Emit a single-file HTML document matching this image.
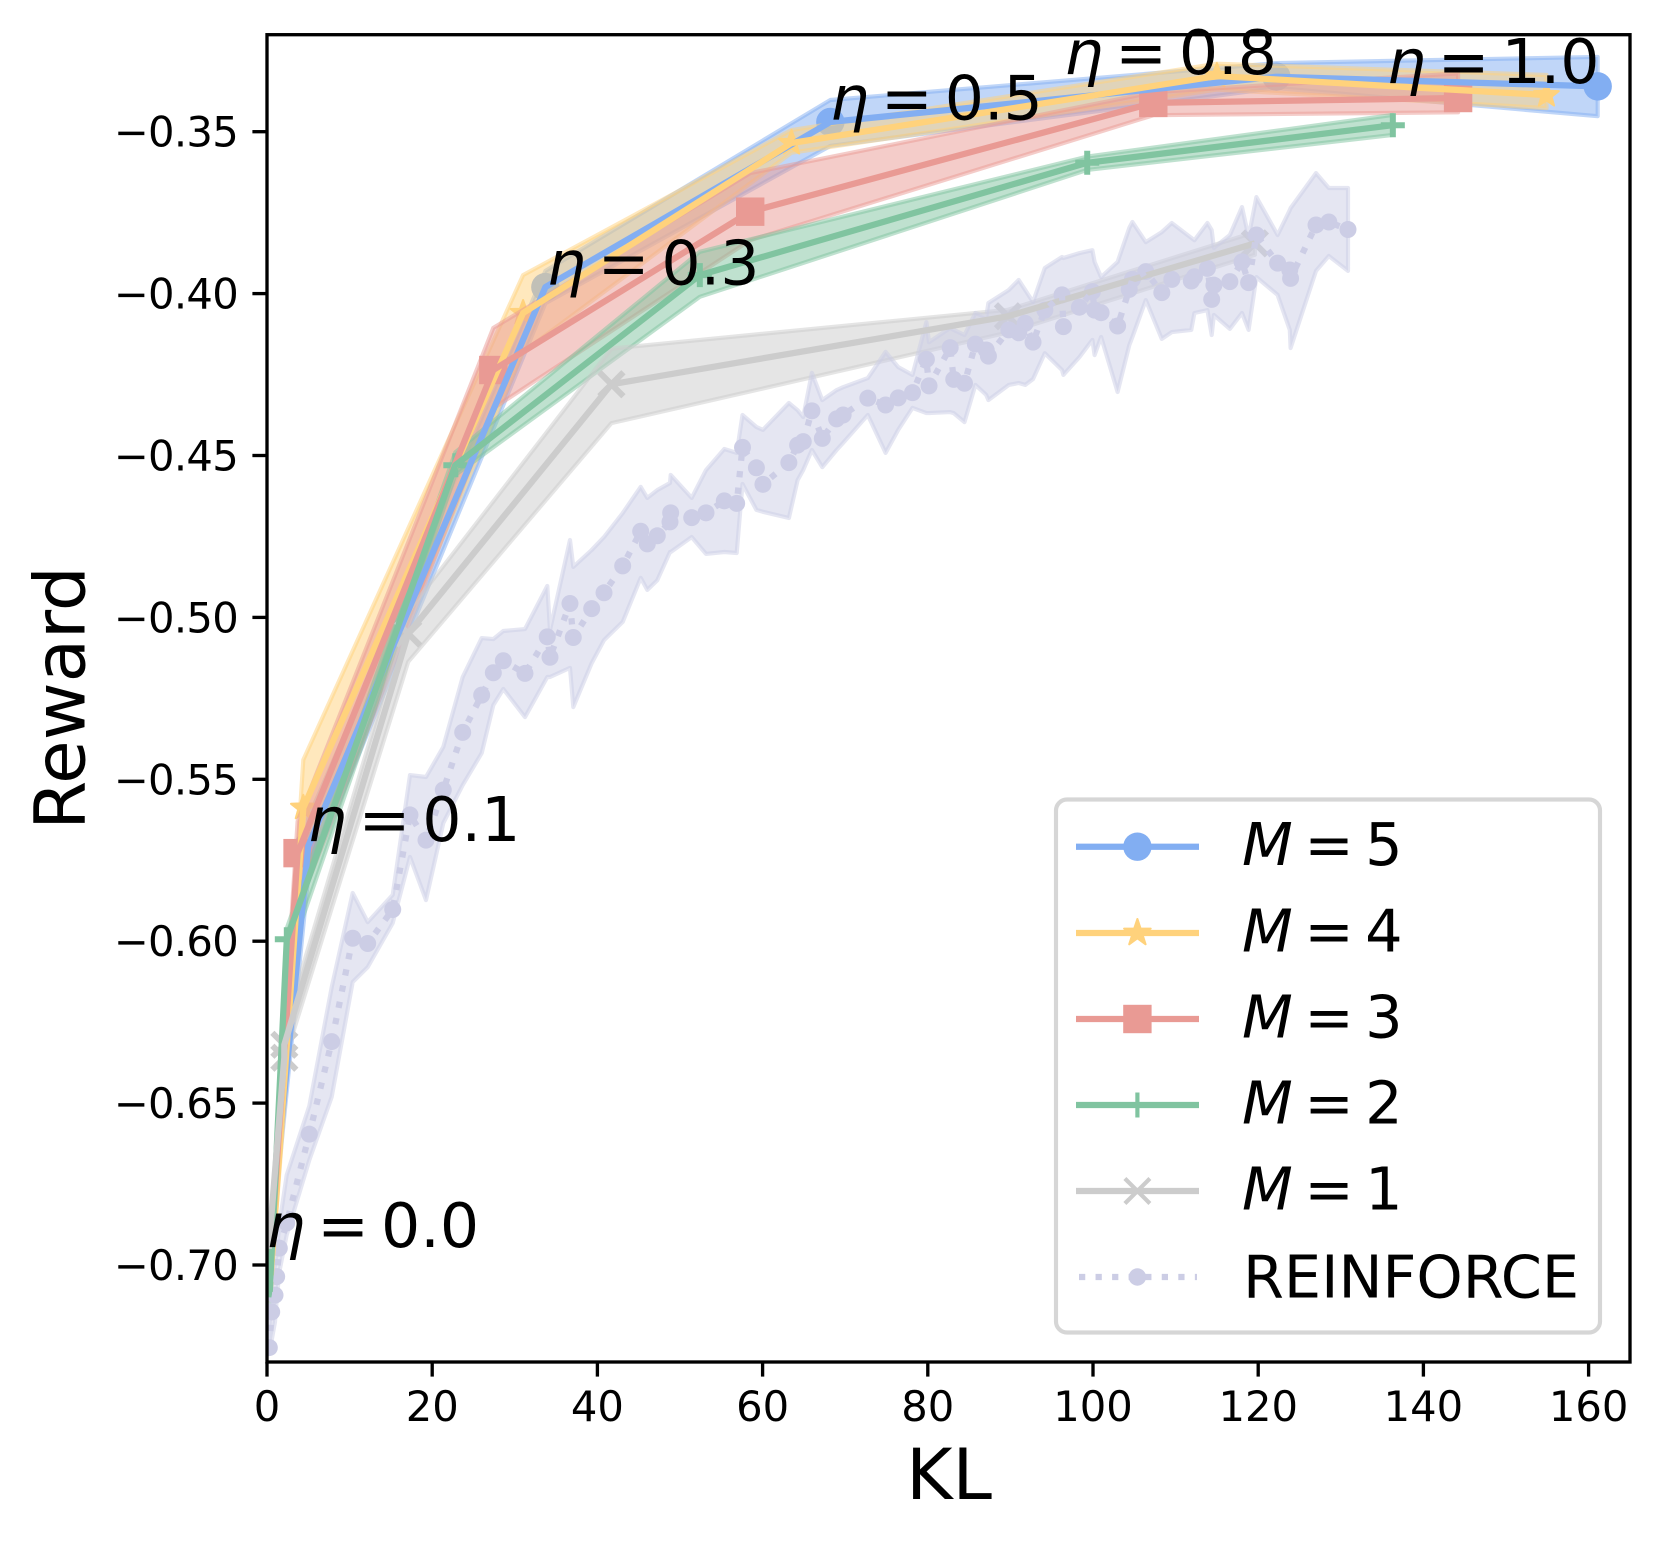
<!DOCTYPE html>
<html lang="en">
<head>
<meta charset="utf-8">
<title>Reward vs KL</title>
<style>
html,body{margin:0;padding:0;background:#fff;}
svg{display:block;font-family:"DejaVu Sans","Liberation Sans",sans-serif;}
</style>
</head>
<body>
<svg id="chart" xmlns="http://www.w3.org/2000/svg" width="1659" height="1544" viewBox="0 0 1659 1544">
  <rect x="0" y="0" width="1659" height="1544" fill="#ffffff"/>
  <defs><clipPath id="plot-clip"><rect x="267" y="34.7" width="1363" height="1327.3"/></clipPath></defs>
  <g id="layer-bands" clip-path="url(#plot-clip)"></g>
  <g id="layer-lines" clip-path="url(#plot-clip)"></g>
  <g id="layer-axes"></g>
  <g id="layer-notes"></g>
  <text x="949" y="1499" font-size="70.8" text-anchor="middle" fill="#000">KL</text>
  <text x="0" y="0" font-size="70.8" text-anchor="middle" fill="#000" transform="translate(84.6 698) rotate(-90)">Reward</text>

  <g>
    <rect x="1056" y="799.5" width="544" height="533" rx="11" ry="11" fill="#ffffff" fill-opacity="0.85" stroke="#d6d6d6" stroke-width="4.17"/>

    <g>
      <line x1="1076" x2="1199" y1="846.7" y2="846.7" stroke="#82aef2" stroke-width="6.25"/>
      <circle cx="1137.4" cy="846.7" r="14.2" fill="#82aef2"/>
      <text x="1242" y="865" font-size="58.9" fill="#000"><tspan font-style="italic">M</tspan><tspan dx="11.5">=</tspan><tspan dx="11.5">5</tspan></text>
    </g>
    <g>
      <line x1="1076" x2="1199" y1="933" y2="933" stroke="#ffd27c" stroke-width="6.25"/>
      <polygon points="1137.4,919 1140.6,928.6 1150.7,928.6 1142.5,934.6 1145.6,944.3 1137.4,938.3 1129.2,944.3 1132.3,934.6 1124.1,928.6 1134.2,928.6" fill="#ffd27c" stroke="#ffd27c" stroke-width="2" stroke-linejoin="round"/>
      <text x="1242" y="951.3" font-size="58.9" fill="#000"><tspan font-style="italic">M</tspan><tspan dx="11.5">=</tspan><tspan dx="11.5">4</tspan></text>
    </g>
    <g>
      <line x1="1076" x2="1199" y1="1019" y2="1019" stroke="#e99a94" stroke-width="6.25"/>
      <rect x="1123.2" y="1004.8" width="28.4" height="28.4" fill="#e99a94"/>
      <text x="1242" y="1037.3" font-size="58.9" fill="#000"><tspan font-style="italic">M</tspan><tspan dx="11.5">=</tspan><tspan dx="11.5">3</tspan></text>
    </g>
    <g>
      <line x1="1076" x2="1199" y1="1105" y2="1105" stroke="#80c4a0" stroke-width="6.25"/>
      <line x1="1137.4" x2="1137.4" y1="1092.5" y2="1117.5" stroke="#80c4a0" stroke-width="4.17"/>
      <text x="1242" y="1123.3" font-size="58.9" fill="#000"><tspan font-style="italic">M</tspan><tspan dx="11.5">=</tspan><tspan dx="11.5">2</tspan></text>
    </g>
    <g>
      <line x1="1076" x2="1199" y1="1191" y2="1191" stroke="#cccccc" stroke-width="6.25"/>
      <path d="M1124.9 1178.5L1149.9 1203.5M1149.9 1178.5L1124.9 1203.5" stroke="#cccccc" stroke-width="4.17" fill="none"/>
      <text x="1242" y="1209.3" font-size="58.9" fill="#000"><tspan font-style="italic">M</tspan><tspan dx="11.5">=</tspan><tspan dx="11.5">1</tspan></text>
    </g>
    <g>
      <line x1="1079" x2="1197" y1="1277" y2="1277" stroke="#cccde5" stroke-width="6.25" stroke-dasharray="6.25 10.3"/>
      <circle cx="1137.4" cy="1277" r="8.7" fill="#cccde5"/>
      <text x="1243" y="1297.5" font-size="58.9" fill="#000">REINFORCE</text>
    </g>
  </g>
</svg>

<script>
// Axis tick labels
const xTicks = [0, 20, 40, 60, 80, 100, 120, 140, 160];
const yTicks = [-0.35, -0.40, -0.45, -0.50, -0.55, -0.60, -0.65, -0.70];

// M = 5
const m5Kl = [0.2, 5.0, 33.7, 68.2, 122.2, 161.1];
const m5Reward = [-0.697, -0.5706, -0.398, -0.347, -0.333, -0.336];
const m5Upper = [-0.692, -0.562, -0.393, -0.3402, -0.3288, -0.3269];
const m5Lower = [-0.702, -0.58, -0.403, -0.3544, -0.3365, -0.3452];

// M = 4
const m4Kl = [0.3, 4.4, 31, 63.5, 115, 154.9];
const m4Reward = [-0.709, -0.5588, -0.406, -0.3535, -0.3328, -0.3387];
const m4Upper = [-0.707, -0.544, -0.3943, -0.3495, -0.329, -0.3325];
const m4Lower = [-0.711, -0.575, -0.418, -0.3565, -0.337, -0.3427];

// M = 3
const m3Kl = [0.3, 3.7, 27.4, 58.5, 107.3, 144.2];
const m3Reward = [-0.7025, -0.5728, -0.4236, -0.3747, -0.3411, -0.3396];
const m3Upper = [-0.6985, -0.563, -0.4106, -0.3628, -0.3378, -0.332];
const m3Lower = [-0.7068, -0.59, -0.4354, -0.3835, -0.3449, -0.344];

// M = 2
const m2Kl = [0.3, 2.4, 22.8, 52.4, 99.3, 136.3];
const m2Reward = [-0.71, -0.5994, -0.453, -0.3943, -0.3596, -0.348];
const m2Upper = [-0.708, -0.596, -0.449, -0.3871, -0.3577, -0.3448];
const m2Lower = [-0.712, -0.607, -0.456, -0.401, -0.3618, -0.351];

// M = 1
const m1Kl = [0.2, 2.1, 2.1, 17.1, 41.7, 89.7, 119.6];
const m1Reward = [-0.695, -0.636, -0.632, -0.505, -0.428, -0.407, -0.3845];
const m1Upper = [-0.693, -0.632, -0.627, -0.4982, -0.417, -0.405, -0.381];
const m1Lower = [-0.697, -0.64, -0.637, -0.5137, -0.44, -0.412, -0.388];

// REINFORCE
const reinforceKl = [0.28,0.57,0.97,1.17,1.49,2.39,5.12,7.83,10.38,12.19,15.22,17.31,19.25,21.34,23.69,25.99,27.40,28.61,31.23,33.93,34.26,36.68,37.08,39.31,40.80,43.06,45.24,46.04,47.25,48.79,48.87,51.42,53.15,55.36,56.86,57.57,59.25,60.04,63.18,64.24,64.92,65.97,67.23,68.96,69.75,72.74,74.89,76.42,78.15,79.83,80.15,82.71,83.14,84.44,85.76,87.07,87.34,89.81,91.01,91.79,92.74,94.17,96.25,96.42,98.35,99.93,100.19,100.98,102.98,104.39,104.77,106.39,108.33,109.54,111.90,112.28,113.85,114.37,114.64,116.57,118.04,118.84,119.78,122.35,123.82,123.92,127.00,128.55,130.87];
const reinforceReward = [-0.7255,-0.7145,-0.7093,-0.7036,-0.6948,-0.6870,-0.6596,-0.6310,-0.5991,-0.6007,-0.5902,-0.5610,-0.5688,-0.5533,-0.5355,-0.5240,-0.5171,-0.5134,-0.5173,-0.5060,-0.5123,-0.4957,-0.5062,-0.4973,-0.4924,-0.4841,-0.4734,-0.4773,-0.4748,-0.4705,-0.4677,-0.4692,-0.4677,-0.4640,-0.4648,-0.4475,-0.4538,-0.4589,-0.4522,-0.4468,-0.4457,-0.4362,-0.4447,-0.4387,-0.4375,-0.4323,-0.4344,-0.4322,-0.4306,-0.4203,-0.4285,-0.4167,-0.4265,-0.4277,-0.4156,-0.4174,-0.4193,-0.4112,-0.4121,-0.4092,-0.4150,-0.4051,-0.4004,-0.4102,-0.4042,-0.3994,-0.4051,-0.4059,-0.4100,-0.3987,-0.3956,-0.3932,-0.3997,-0.3956,-0.3961,-0.3948,-0.3922,-0.4018,-0.3974,-0.3963,-0.3902,-0.3966,-0.3819,-0.3906,-0.3927,-0.3953,-0.3788,-0.3779,-0.3802];
const reinforceUpper = [-0.7201,-0.7062,-0.7000,-0.6960,-0.6877,-0.6722,-0.6509,-0.6142,-0.5851,-0.5941,-0.5857,-0.5487,-0.5493,-0.5400,-0.5184,-0.5064,-0.5067,-0.5042,-0.5036,-0.4903,-0.5039,-0.4761,-0.4844,-0.4792,-0.4752,-0.4678,-0.4597,-0.4631,-0.4607,-0.4585,-0.4560,-0.4631,-0.4545,-0.4480,-0.4492,-0.4375,-0.4412,-0.4421,-0.4338,-0.4360,-0.4381,-0.4245,-0.4329,-0.4298,-0.4289,-0.4261,-0.4180,-0.4227,-0.4251,-0.4088,-0.4150,-0.4106,-0.4112,-0.4128,-0.4060,-0.4072,-0.4029,-0.3989,-0.3958,-0.3989,-0.4026,-0.3921,-0.3887,-0.3890,-0.3875,-0.3866,-0.3902,-0.3949,-0.3902,-0.3797,-0.3779,-0.3841,-0.3810,-0.3782,-0.3828,-0.3835,-0.3782,-0.3804,-0.3859,-0.3819,-0.3733,-0.3825,-0.3702,-0.3819,-0.3742,-0.3736,-0.3628,-0.3674,-0.3674];
const reinforceLower = [-0.7269,-0.7232,-0.7176,-0.7108,-0.7022,-0.6907,-0.6676,-0.6481,-0.6126,-0.6080,-0.5944,-0.5740,-0.5873,-0.5635,-0.5518,-0.5419,-0.5271,-0.5221,-0.5308,-0.5184,-0.5184,-0.5156,-0.5277,-0.5141,-0.5070,-0.5014,-0.4878,-0.4915,-0.4885,-0.4798,-0.4798,-0.4752,-0.4804,-0.4798,-0.4801,-0.4588,-0.4668,-0.4674,-0.4693,-0.4576,-0.4545,-0.4483,-0.4536,-0.4483,-0.4461,-0.4375,-0.4492,-0.4421,-0.4353,-0.4369,-0.4369,-0.4366,-0.4369,-0.4397,-0.4282,-0.4313,-0.4329,-0.4282,-0.4276,-0.4282,-0.4264,-0.4184,-0.4236,-0.4251,-0.4196,-0.4143,-0.4190,-0.4134,-0.4304,-0.4159,-0.4134,-0.4020,-0.4140,-0.4119,-0.4112,-0.4060,-0.4051,-0.4128,-0.4066,-0.4109,-0.4060,-0.4112,-0.3949,-0.4004,-0.4112,-0.4168,-0.3930,-0.3884,-0.3930];

// Eta annotations
const etaValues = ['0.0', '0.1', '0.3', '0.5', '0.8', '1.0'];
const etaKl = [-0.1, 4.9, 33.85, 68.15, 96.5, 135.55];
const etaReward = [-0.6944, -0.569, -0.3972, -0.3462, -0.3322, -0.3349];

const NS = 'http://www.w3.org/2000/svg';
const plot = { left: 267, right: 1630, top: 34.7, bottom: 1362 };
function xScale(v) { return plot.left + v * 8.26; }
function yScale(v) { return 131.7 + (-0.35 - v) * 3238; }
function make(tag, attrs, parent) {
  const node = document.createElementNS(NS, tag);
  for (const k in attrs) node.setAttribute(k, attrs[k]);
  parent.appendChild(node);
  return node;
}

const bandsLayer = document.getElementById('layer-bands');
const linesLayer = document.getElementById('layer-lines');
const axesLayer = document.getElementById('layer-axes');
const notesLayer = document.getElementById('layer-notes');

function bandPoints(kl, upper, lower) {
  const pts = [];
  for (let i = 0; i < kl.length; i++) pts.push(xScale(kl[i]).toFixed(1) + ',' + yScale(upper[i]).toFixed(1));
  for (let i = kl.length - 1; i >= 0; i--) pts.push(xScale(kl[i]).toFixed(1) + ',' + yScale(lower[i]).toFixed(1));
  return pts.join(' ');
}
function linePoints(kl, reward) {
  return kl.map(function (v, i) { return xScale(v).toFixed(1) + ',' + yScale(reward[i]).toFixed(1); }).join(' ');
}
function starPoints(cx, cy, ro, ri) {
  const pts = [];
  for (let i = 0; i < 10; i++) {
    const r = i % 2 ? ri : ro;
    const a = -Math.PI / 2 + i * Math.PI / 5;
    pts.push((cx + r * Math.cos(a)).toFixed(1) + ',' + (cy + r * Math.sin(a)).toFixed(1));
  }
  return pts.join(' ');
}
function drawMarker(kind, cx, cy, color) {
  if (kind === 'circle') return make('circle', { cx: cx, cy: cy, r: 14.2, fill: color }, bandsLayer);
  if (kind === 'dot') return make('circle', { cx: cx, cy: cy, r: 8.5, fill: color }, bandsLayer);
  if (kind === 'star') return make('polygon', { points: starPoints(cx, cy, 13, 5.4), fill: color, stroke: color, 'stroke-width': 2, 'stroke-linejoin': 'round' }, bandsLayer);
  if (kind === 'square') return make('rect', { x: cx - 14.2, y: cy - 14.2, width: 28.4, height: 28.4, fill: color }, bandsLayer);
  if (kind === 'plus') return make('path', { d: 'M' + (cx - 12) + ' ' + cy + 'H' + (cx + 12) + 'M' + cx + ' ' + (cy - 12) + 'V' + (cy + 12), stroke: color, 'stroke-width': 6, fill: 'none' }, bandsLayer);
  return make('path', { d: 'M' + (cx - 12) + ' ' + (cy - 12) + 'L' + (cx + 12) + ' ' + (cy + 12) + 'M' + (cx + 12) + ' ' + (cy - 12) + 'L' + (cx - 12) + ' ' + (cy + 12), stroke: color, 'stroke-width': 6, fill: 'none' }, bandsLayer);
}

const seriesList = [
  { id: 'm5', kl: m5Kl, reward: m5Reward, upper: m5Upper, lower: m5Lower, color: '#82aef2', marker: 'circle', skip: 1 },
  { id: 'm4', kl: m4Kl, reward: m4Reward, upper: m4Upper, lower: m4Lower, color: '#ffd27c', marker: 'star', skip: 1 },
  { id: 'm3', kl: m3Kl, reward: m3Reward, upper: m3Upper, lower: m3Lower, color: '#e99a94', marker: 'square', skip: 1 },
  { id: 'm2', kl: m2Kl, reward: m2Reward, upper: m2Upper, lower: m2Lower, color: '#80c4a0', marker: 'plus', skip: 1 },
  { id: 'm1', kl: m1Kl, reward: m1Reward, upper: m1Upper, lower: m1Lower, color: '#cccccc', marker: 'cross', skip: 1 },
  { id: 'reinforce', kl: reinforceKl, reward: reinforceReward, upper: reinforceUpper, lower: reinforceLower, color: '#cccde5', marker: 'dot', skip: 0 }
];

seriesList.forEach(function (s) {
  const band = make('polygon', { points: bandPoints(s.kl, s.upper, s.lower), fill: s.color, 'fill-opacity': 0.5, stroke: s.color, 'stroke-opacity': 0.5, 'stroke-width': 4.17, 'stroke-linejoin': 'round' }, bandsLayer);
  
  
  for (let i = s.skip; i < s.kl.length; i++) {
    const mark = drawMarker(s.marker, xScale(s.kl[i]), yScale(s.reward[i]), s.color);
    
    
  }
  const attrs = { points: linePoints(s.kl, s.reward), fill: 'none', stroke: s.color, 'stroke-width': 6.25, 'stroke-linejoin': 'round' };
  if (s.id === 'reinforce') attrs['stroke-dasharray'] = '6.25 10.3';
  const line = make('polyline', attrs, linesLayer);
  
  
});

// Spines
const frame = make('rect', { x: plot.left, y: plot.top, width: plot.right - plot.left, height: plot.bottom - plot.top, fill: 'none', stroke: '#000', 'stroke-width': 3.33 }, axesLayer);



// X ticks
xTicks.forEach(function (v) {
  const px = xScale(v);
  const tick = make('line', { x1: px, x2: px, y1: plot.bottom, y2: plot.bottom + 14.6, stroke: '#000', 'stroke-width': 3.33 }, axesLayer);
  
  
  const label = make('text', { x: px, y: 1421, 'font-size': 41.67, 'text-anchor': 'middle', fill: '#000' }, axesLayer);
  label.textContent = String(v);
  
  
});

// Y ticks
yTicks.forEach(function (v) {
  const py = yScale(v);
  const tick = make('line', { x1: plot.left - 14.6, x2: plot.left, y1: py, y2: py, stroke: '#000', 'stroke-width': 3.33 }, axesLayer);
  
  
  const label = make('text', { x: 238, y: py + 15, 'font-size': 41.67, 'text-anchor': 'end', 'letter-spacing': '-0.7', fill: '#000' }, axesLayer);
  label.textContent = '\u2212' + Math.abs(v).toFixed(2);
  
  
});

// Eta annotations
etaValues.forEach(function (val, i) {
  const note = make('text', { x: xScale(etaKl[i]), y: yScale(etaReward[i]), 'font-size': 61.7, fill: '#000' }, notesLayer);
  const eta = make('tspan', { 'font-style': 'italic' }, note);
  eta.textContent = '\u03b7';
  const eq = make('tspan', { dx: 12 }, note);
  eq.textContent = '=';
  const num = make('tspan', { dx: 12 }, note);
  num.textContent = val;
  
  
});
</script>
</body>
</html>
